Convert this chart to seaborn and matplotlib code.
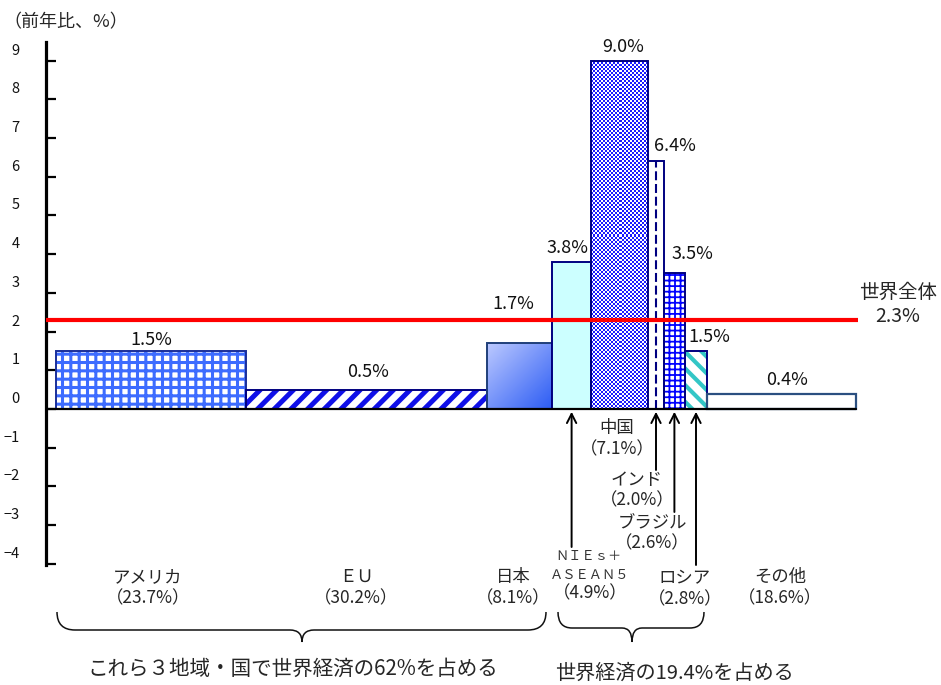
import numpy as np
import matplotlib
matplotlib.use("Agg")
import matplotlib.pyplot as plt
import seaborn as sns
from matplotlib.path import Path
from matplotlib.patches import PathPatch
from matplotlib.colors import LinearSegmentedColormap, ListedColormap
from matplotlib.transforms import Affine2D, ScaledTranslation

# ---- data -------------------------------------------------------------
regions = ["アメリカ", "ＥＵ", "日本", "ＮＩＥｓ＋ＡＳＥＡＮ５", "中国",
           "インド", "ブラジル", "ロシア", "その他"]
growth = [1.5, 0.5, 1.7, 3.8, 9.0, 6.4, 3.5, 1.5, 0.4]          # 前年比 %
gdp_share = [23.7, 30.2, 8.1, 4.9, 7.1, 2.0, 2.6, 2.8, 18.6]     # 世界GDPシェア %
world_growth = 2.3
yticks = list(range(-4, 10))
group_advanced = [0, 1, 2]          # アメリカ・EU・日本
group_emerging = [3, 4, 5, 6, 7]    # NIEs+ASEAN5・中国・インド・ブラジル・ロシア

# ---- style ------------------------------------------------------------
sns.set_theme(style="white")
plt.rcParams["font.family"] = ["Noto Sans CJK JP", "DejaVu Sans"]
plt.rcParams["axes.unicode_minus"] = True

W, H, DPI = 941, 685, 100
fig = plt.figure(figsize=(W / DPI, H / DPI), dpi=DPI)
fig.patch.set_facecolor("white")

# transform for figure pixel coordinates (origin top-left)
px = Affine2D().scale(1 / DPI, -1 / DPI).translate(0, H / DPI) + fig.dpi_scale_trans

ax_l, ax_r, ax_t, ax_b = 46, 941, 42, 565
ax = fig.add_axes([ax_l / W, 1 - ax_b / H, (ax_r - ax_l) / W, (ax_b - ax_t) / H])
ax.set_facecolor("white")

scale_x = 8.0                         # px per share-point
x0 = -(56 - ax_l) / scale_x
x1 = x0 + (ax_r - ax_l) / scale_x
y_lo, y_hi = -4.03, 9.48

widths = np.array(gdp_share)
lefts = np.concatenate([[0], np.cumsum(widths)[:-1]])
centers = lefts + widths / 2

navy = "#000080"

def hatched_bar(i, hatch, hcolor, hlw, edge=navy, face="white"):
    with plt.rc_context({"hatch.linewidth": hlw}):
        b = ax.bar(centers[i], growth[i], width=widths[i], color=face,
                   edgecolor=hcolor, hatch=hatch, linewidth=0, zorder=2)
        for p in b.patches:
            if hasattr(p, "set_hatch_linewidth"):
                p.set_hatch_linewidth(hlw)
    ax.bar(centers[i], growth[i], width=widths[i], fill=False,
           edgecolor=edge, linewidth=1.4, zorder=3)

def image_bar(i, img, cmap, edge, interp="nearest"):
    b = ax.bar(centers[i], growth[i], width=widths[i], color="none",
               linewidth=0, zorder=2)
    im = ax.imshow(img, cmap=cmap, extent=(lefts[i], lefts[i] + widths[i], 0, growth[i]),
                   aspect="auto", interpolation=interp, zorder=2, origin="upper")
    im.set_clip_path(b.patches[0])
    ax.bar(centers[i], growth[i], width=widths[i], fill=False,
           edgecolor=edge, linewidth=1.4, zorder=3)

# アメリカ: blue grid
hatched_bar(0, "++", "#3d6cff", 2.2, edge="#1a2f9a")
# EU: diagonal stripes
hatched_bar(1, "//", "#1010e8", 3.6)
# 日本: gradient
n = 120
rr, cc = np.mgrid[0:n, 0:n] / (n - 1)
grad = (rr + cc) / 2
image_bar(2, grad, LinearSegmentedColormap.from_list("jp", ["#bcc9ff", "#2c5cf4"]),
          "#1f3f7a", interp="bilinear")
# NIEs+ASEAN5: light cyan
ax.bar(centers[3], growth[3], width=widths[3], color="#ccffff",
       edgecolor=navy, linewidth=1.4, zorder=3)
# 中国: fine checker
ncx = int(round(widths[4] * scale_x / 2))
ncy = int(round(growth[4] * 38.71 / 2))
checker = (np.add.outer(np.arange(ncy), np.arange(ncx)) % 2).astype(float)
image_bar(4, checker, ListedColormap(["#1a1aff", "white"]), navy)
# インド: white with dashed centre line
ax.bar(centers[5], growth[5], width=widths[5], color="white",
       edgecolor=navy, linewidth=1.4, zorder=3)
ax.vlines(centers[5], 0, growth[5], colors=navy, linewidth=1.5,
          linestyles=(0, (4.3, 1.8)), zorder=4)
# ブラジル: fine blue grid
hatched_bar(6, "+++", "#0000ff", 1.3)
# ロシア: teal stripes
hatched_bar(7, "\\\\", "#33c6c6", 3.0)
# その他: plain
ax.bar(centers[8], growth[8], width=widths[8], color="white",
       edgecolor="#2b4f80", linewidth=1.6, zorder=3)

# baseline and world average
ax.plot([x0, lefts[-1] + widths[-1]], [0, 0], color="black", linewidth=1.6, zorder=5)
ax.hlines(world_growth, x0, 100.25, colors="#ff0000", linewidth=3.0, zorder=6)

# value labels (offsets in pixels)
label_offsets = [(1, 11), (2, 18), (-6, 39), (-4, 14), (4, 14),
                 (19, 15), (18, 19), (13, 14), (5, 14)]
for i, v in enumerate(growth):
    dx, dy = label_offsets[i]
    ax.annotate(f"{v:.1f}%", xy=(centers[i], v), xytext=(dx, dy),
                textcoords="offset pixels", ha="center", va="center",
                fontsize=13, color="#111111", zorder=7)

# axis styling
ax.set_xlim(x0, x1)
ax.set_ylim(y_lo, y_hi)
for s in ["top", "right", "bottom"]:
    ax.spines[s].set_visible(False)
ax.spines["left"].set_color("black")
ax.spines["left"].set_linewidth(2.3)
ax.set_xticks([])
ax.set_yticks(yticks)
ax.set_yticklabels([])
ax.tick_params(axis="y", direction="in", length=7.5, width=1.6, color="black", left=True)
ax.grid(False)

lab_tr = ax.get_yaxis_transform() + ScaledTranslation(0, 10 / DPI, fig.dpi_scale_trans)
for t in yticks:
    ax.text((19.5 - ax_l) / (ax_r - ax_l), t, f"{t}".replace("-", "−"),
            transform=lab_tr, ha="right", va="center", fontsize=10.5,
            color="#111111", clip_on=False)

# titles / annotations in figure pixels
fig.text(3, 22, "（前年比、%）", transform=px, ha="left", va="center", fontsize=13)
fig.text(898, 292, "世界全体", transform=px, ha="center", va="center", fontsize=14)
fig.text(898, 316, f"{world_growth:.1f}%", transform=px, ha="center", va="center", fontsize=14)

def share(i):
    return f"（{gdp_share[i]:.1f}%）"

cat_labels = [
    (0, 148, 577, 598), (1, 356, 577, 598), (2, 513, 577, 598),
    (4, 617, 428, 449), (5, 637, 480, 500), (6, 652, 523, 543),
    (7, 685, 578, 599), (8, 780, 577, 598),
]
for i, x, yn, ys in cat_labels:
    fig.text(x, yn, regions[i], transform=px, ha="center", va="center", fontsize=12.5)
    fig.text(x, ys, share(i), transform=px, ha="center", va="center", fontsize=12.5)
# NIEs+ASEAN5 in two lines
fig.text(588, 557, regions[3][:5], transform=px, ha="center", va="center",
         fontsize=9.5, color="#333333")
fig.text(590, 575, regions[3][5:], transform=px, ha="center", va="center",
         fontsize=9.5, color="#333333")
fig.text(590, 593, share(3), transform=px, ha="center", va="center", fontsize=12.5)

# arrows from labels to the narrow bars
arrow_tails = {3: 547, 5: 470, 6: 512, 7: 565}
for i, ytail in arrow_tails.items():
    ax.annotate("", xy=(centers[i], 0), xytext=(0, -(ytail - 409)),
                textcoords="offset pixels",
                arrowprops=dict(arrowstyle="->,head_length=0.55,head_width=0.28",
                                color="black", lw=1.4, shrinkA=0, shrinkB=2),
                zorder=7, annotation_clip=False)

# braces
def brace(xa, xb, xc, y_top, y_mid, y_tip, r_end, r_tip):
    verts = [(xa, y_top), (xa, y_mid), (xa + r_end, y_mid),
             (xc - r_tip, y_mid),
             (xc, y_mid), (xc, y_tip),
             (xc, y_mid), (xc + r_tip, y_mid),
             (xb - r_end, y_mid),
             (xb, y_mid), (xb, y_top)]
    codes = [Path.MOVETO, Path.CURVE3, Path.CURVE3, Path.LINETO,
             Path.CURVE3, Path.CURVE3, Path.CURVE3, Path.CURVE3,
             Path.LINETO, Path.CURVE3, Path.CURVE3]
    fig.add_artist(PathPatch(Path(verts, codes), transform=px, fill=False,
                             edgecolor="#111111", linewidth=1.1))

brace(57, 546, 302, 612, 630, 642, 18, 12)
brace(558, 704, 632, 612, 628, 642, 14, 10)

adv_share = sum(gdp_share[i] for i in group_advanced)
emg_share = sum(gdp_share[i] for i in group_emerging)
fig.text(293, 669, f"これら３地域・国で世界経済の{adv_share:.0f}%を占める", transform=px,
         ha="center", va="center", fontsize=14.8)
fig.text(674, 673, f"世界経済の{emg_share:.1f}%を占める", transform=px,
         ha="center", va="center", fontsize=14.5)

fig.savefig("out.png", dpi=DPI, facecolor="white")
